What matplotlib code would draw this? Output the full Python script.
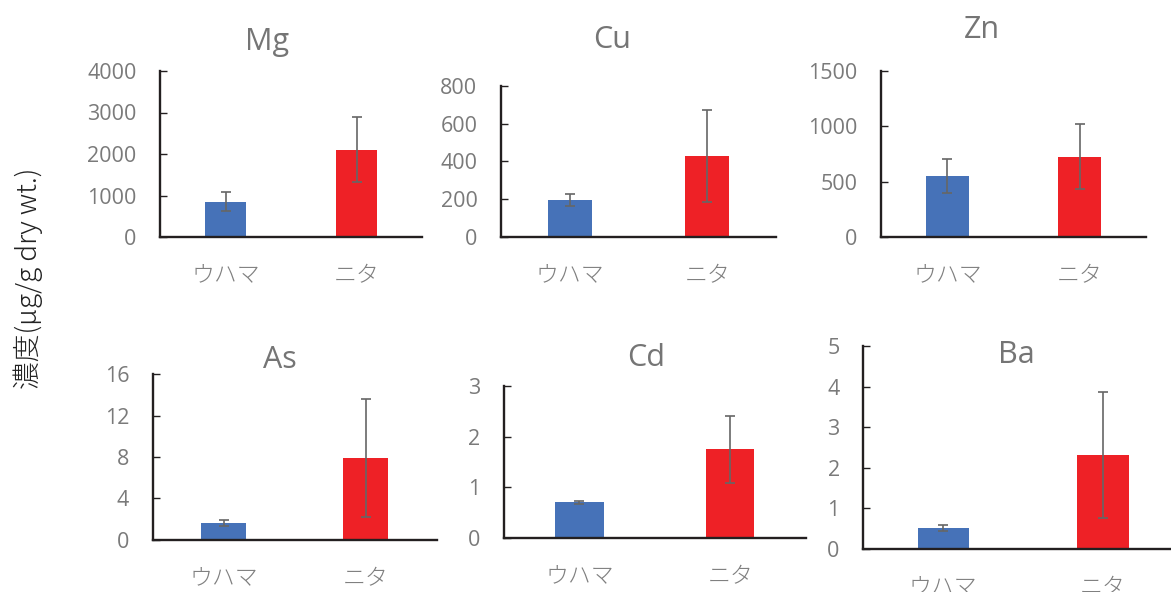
import matplotlib
matplotlib.use("Agg")
import matplotlib.pyplot as plt

plt.rcParams['font.family'] = ['Open Sans', 'Noto Sans CJK JP', 'DejaVu Sans']

# Sites and elements
categories = ['ウハマ', 'ニタ']
elements = ['Mg', 'Cu', 'Zn', 'As', 'Cd', 'Ba']

# Mean concentration (µg/g dry wt.) for ウハマ / ニタ
mg_mean = [850, 2100]
cu_mean = [195, 430]
zn_mean = [550, 725]
as_mean = [1.65, 7.9]
cd_mean = [0.70, 1.75]
ba_mean = [0.51, 2.31]

# Standard deviations
mg_sd = [225, 780]
cu_sd = [33, 245]
zn_sd = [155, 293]
as_sd = [0.30, 5.7]
cd_sd = [0.035, 0.67]
ba_sd = [0.085, 1.55]

# Y-axis ticks per element
mg_ticks = [0, 1000, 2000, 3000, 4000]
cu_ticks = [0, 200, 400, 600, 800]
zn_ticks = [0, 500, 1000, 1500]
as_ticks = [0, 4, 8, 12, 16]
cd_ticks = [0, 1, 2, 3]
ba_ticks = [0, 1, 2, 3, 4, 5]

means = [mg_mean, cu_mean, zn_mean, as_mean, cd_mean, ba_mean]
sds = [mg_sd, cu_sd, zn_sd, as_sd, cd_sd, ba_sd]
ticks = [mg_ticks, cu_ticks, zn_ticks, as_ticks, cd_ticks, ba_ticks]

W, H = 1171, 592
fig = plt.figure(figsize=(W / 100, H / 100), dpi=100)

# Panel boxes in pixels: left, right, top, bottom
boxes = [
    (160, 422, 71, 237),
    (501, 776, 86.3, 236.7),
    (881.3, 1145.7, 71.3, 236.7),
    (152.7, 436.7, 374.3, 539.7),
    (504, 805.7, 386.3, 537.7),
    (863.3, 1183, 346.3, 548.7),
]
# Title centres in pixels
title_pos = [(267, 42), (612, 40), (982, 30), (280, 360), (646, 358), (1016, 355)]

bar_colors = ['#4672B8', '#EE2126']
axis_color = '#231F20'
tick_color = '#7A7A7A'
title_color = '#757575'
err_color = '#666666'

for i, el in enumerate(elements):
    l, r, t, b = boxes[i]
    ax = fig.add_axes([l / W, 1 - b / H, (r - l) / W, (b - t) / H])
    x = range(len(categories))
    ax.bar(x, means[i], width=0.32, color=bar_colors, zorder=2)
    ax.errorbar(x, means[i], yerr=sds[i], fmt='none', ecolor=err_color,
                elinewidth=1.2, capsize=3.5, capthick=1.2, zorder=3)
    ax.set_xlim(-0.5, 1.5)
    ax.set_ylim(ticks[i][0], ticks[i][-1])
    ax.set_yticks(ticks[i])
    ax.set_yticklabels([str(v) for v in ticks[i]])
    ax.set_xticks(list(x))
    ax.set_xticklabels(categories, fontfamily=['Noto Sans CJK JP'],
                       fontweight='light', fontsize=16.5, color='#808080')
    for s in ['top', 'right']:
        ax.spines[s].set_visible(False)
    for s in ['left', 'bottom']:
        ax.spines[s].set_color(axis_color)
        ax.spines[s].set_linewidth(1.7)
    ax.tick_params(axis='y', direction='in', length=5, width=1, color=axis_color,
                   labelsize=15.5, labelcolor=tick_color, pad=17)
    ax.tick_params(axis='x', length=0, pad=19)
    ax.set_facecolor('none')
    tx, ty = title_pos[i]
    fig.text(tx / W, 1 - ty / H, el, ha='center', va='center',
             fontsize=22, color=title_color)

fig.text(28 / W, 1 - 278 / H, '濃度(μg/g dry wt.)', rotation=90,
         ha='center', va='center', fontsize=20, color='#222222',
         family=['Noto Sans CJK JP', 'DejaVu Sans'], fontweight='light')

fig.savefig('out.png', dpi=100, facecolor='white')
